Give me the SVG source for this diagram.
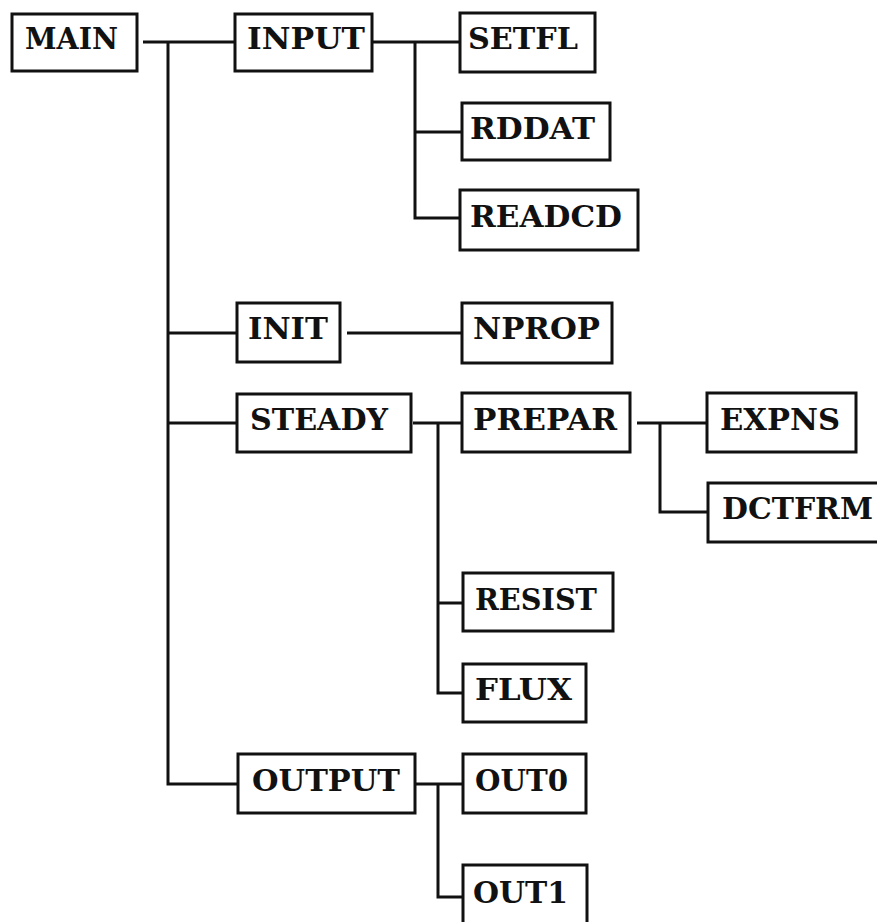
<svg xmlns="http://www.w3.org/2000/svg" width="877" height="922" viewBox="0 0 877 922">
<style>
rect{fill:#fff;stroke:#111;stroke-width:3}
text{font-family:"DejaVu Serif","Liberation Serif",serif;font-weight:bold;font-size:29px;fill:#111}
.c path{fill:none;stroke:#111;stroke-width:3}
</style>
<rect x="0" y="0" width="877" height="922" style="stroke:none"/>
<g class="c" id="connectors">
<path d="M143,42 H235 M168,42 V784 H238"/>
<path d="M168,333 H237 M168,423 H237"/>
<path d="M373,42 H460 M415,42 V218 H460 M415,132 H462"/>
<path d="M347,333 H462"/>
<path d="M413,423 H462 M438,423 V693 H463 M438,603 H463"/>
<path d="M637,423 H707 M660,423 V512 H708"/>
<path d="M416,784 H463 M438,784 V897 H463"/>
</g>
<g id="MAIN"><rect x="12" y="14" width="125" height="57"/><text x="25" y="49" textLength="93" lengthAdjust="spacingAndGlyphs">MAIN</text></g>
<g id="INPUT"><rect x="235" y="14" width="137" height="57"/><text x="247" y="49" textLength="118" lengthAdjust="spacingAndGlyphs">INPUT</text></g>
<g id="SETFL"><rect x="460" y="13" width="135" height="59"/><text x="468" y="49" textLength="110" lengthAdjust="spacingAndGlyphs">SETFL</text></g>
<g id="RDDAT"><rect x="462" y="103" width="148" height="57"/><text x="470" y="139" textLength="125" lengthAdjust="spacingAndGlyphs">RDDAT</text></g>
<g id="READCD"><rect x="460" y="190" width="178" height="60"/><text x="470" y="227" textLength="152" lengthAdjust="spacingAndGlyphs">READCD</text></g>
<g id="INIT"><rect x="237" y="303" width="103" height="59"/><text x="248" y="339" textLength="80" lengthAdjust="spacingAndGlyphs">INIT</text></g>
<g id="NPROP"><rect x="462" y="303" width="150" height="60"/><text x="473" y="339" textLength="127" lengthAdjust="spacingAndGlyphs">NPROP</text></g>
<g id="STEADY"><rect x="237" y="394" width="174" height="58"/><text x="250" y="430" textLength="138" lengthAdjust="spacingAndGlyphs">STEADY</text></g>
<g id="PREPAR"><rect x="462" y="393" width="168" height="59"/><text x="473" y="430" textLength="144" lengthAdjust="spacingAndGlyphs">PREPAR</text></g>
<g id="EXPNS"><rect x="707" y="393" width="149" height="59"/><text x="720" y="430" textLength="120" lengthAdjust="spacingAndGlyphs">EXPNS</text></g>
<g id="DCTFRM"><rect x="708" y="483" width="180" height="59"/><text x="722" y="519" textLength="151" lengthAdjust="spacingAndGlyphs">DCTFRM</text></g>
<g id="RESIST"><rect x="463" y="573" width="150" height="58"/><text x="475" y="610" textLength="122" lengthAdjust="spacingAndGlyphs">RESIST</text></g>
<g id="FLUX"><rect x="463" y="664" width="123" height="58"/><text x="475" y="700" textLength="97" lengthAdjust="spacingAndGlyphs">FLUX</text></g>
<g id="OUTPUT"><rect x="238" y="754" width="177" height="59"/><text x="252" y="791" textLength="148" lengthAdjust="spacingAndGlyphs">OUTPUT</text></g>
<g id="OUT0"><rect x="463" y="754" width="123" height="59"/><text x="475" y="791" textLength="93" lengthAdjust="spacingAndGlyphs">OUT0</text></g>
<g id="OUT1"><rect x="463" y="865" width="124" height="70"/><text x="473" y="903" textLength="95" lengthAdjust="spacingAndGlyphs">OUT1</text></g>
</svg>
